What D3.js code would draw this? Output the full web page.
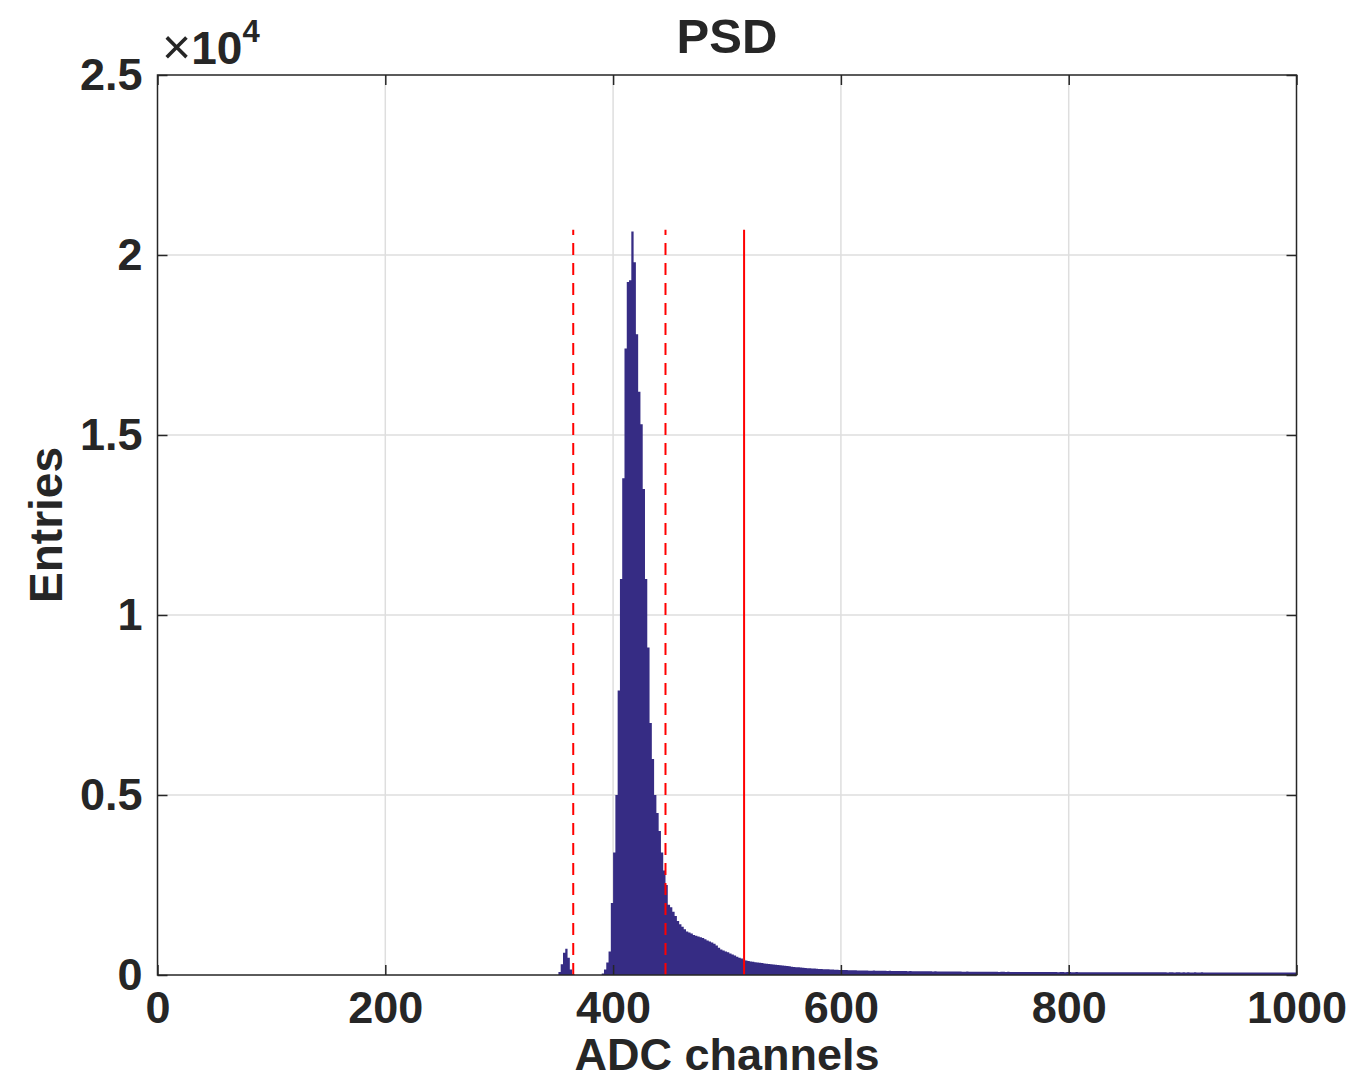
<!DOCTYPE html>
<html>
<head>
<meta charset="utf-8">
<script src="https://cdn.jsdelivr.net/npm/d3@7"></script>
<style>
body { margin: 0; background: #fff; }
svg text { font-family: "Liberation Sans", Arial, Helvetica, sans-serif; fill: #262626; }
</style>
</head>
<body>
<svg width="1358" height="1080"></svg>
<script>
// histogram of ADC channels, 2-channel bins, counts start at channel 340 (zero below)
const firstBin = 340;
const binWidth = 2;
const counts = [
    0, 0, 0, 0, 0, 0, 80, 300, 620, 730,                                  // 340
    480, 150, 30, 0, 0, 0, 0, 0, 0, 0,                                    // 360
    0, 0, 0, 0, 0, 40, 150, 350, 650, 2000,                               // 380
    3400, 5000, 7900, 11000, 13800, 17400, 19250, 19300, 20650, 19800,    // 400
    17800, 16200, 15300, 13500, 11000, 9100, 7000, 6000, 5000, 4500,      // 420
    4000, 3400, 2900, 2500, 1950, 1880, 1760, 1640, 1500, 1410,           // 440
    1340, 1270, 1210, 1180, 1150, 1110, 1090, 1070, 1050, 1030,           // 460
    990, 960, 930, 900, 870, 820, 760, 710, 680, 650,                     // 480
    630, 600, 570, 540, 510, 480, 455, 425, 405, 390,                     // 500
    375, 365, 355, 345, 338, 330, 320, 312, 305, 296,                     // 520
    290, 284, 277, 270, 262, 255, 248, 240, 232, 224,                     // 540
    218, 212, 206, 200, 195, 190, 186, 182, 178, 174,                     // 560
    170, 166, 163, 160, 157, 154, 151, 148, 145, 142,                     // 580
    140, 137, 139, 134, 133, 131, 132, 128, 127, 125,                     // 600
    124, 126, 121, 120, 122, 118, 117, 119, 115, 116,                     // 620
    114, 115, 112, 113, 111, 110, 112, 108, 109, 107,                     // 640
    108, 106, 105, 107, 104, 103, 105, 102, 101, 103,                     // 660
    100, 101, 99, 98, 100, 97, 96, 98, 95, 96,                            // 680
    95, 94, 96, 93, 92, 94, 91, 92, 93, 90,                               // 700
    91, 90, 92, 89, 88, 90, 87, 89, 88, 86,                               // 720
    88, 87, 86, 88, 85, 86, 84, 86, 85, 83,                               // 740
    85, 84, 83, 85, 82, 83, 84, 81, 82, 83,                               // 760
    81, 82, 80, 82, 81, 79, 80, 81, 79, 80,                               // 780
    80, 78, 79, 80, 78, 79, 77, 78, 79, 77,                               // 800
    78, 77, 76, 78, 77, 76, 77, 75, 76, 77,                               // 820
    76, 75, 77, 76, 74, 75, 76, 74, 75, 76,                               // 840
    75, 74, 75, 73, 74, 75, 73, 74, 75, 73,                               // 860
    74, 73, 74, 72, 73, 74, 72, 73, 74, 72,                               // 880
    73, 72, 73, 71, 72, 73, 71, 72, 73, 71,                               // 900
    72, 71, 72, 70, 71, 72, 70, 71, 72, 70,                               // 920
    71, 70, 71, 69, 70, 71, 69, 70, 71, 69,                               // 940
    70, 69, 70, 68, 69, 70, 68, 69, 70, 68,                               // 960
    69, 68, 69, 67, 68, 69, 67, 68, 69, 68                                // 980
];

// cut positions (ADC channels) and the height the markers are drawn to
const dashedCuts = [365, 446];
const solidCuts = [515];
const cutTop = 20700;

const xTicks = [0, 200, 400, 600, 800, 1000];
const yTicks = [0, 5000, 10000, 15000, 20000, 25000];
const yTickLabels = ["0", "0.5", "1", "1.5", "2", "2.5"];

let width = 1358, height = 1080;
let pLeft = 157.5, pRight = 1296.5, pTop = 75, pBottom = 975;
let ink = "#262626";

let svg = d3.select("svg");

let x = d3.scaleLinear().domain([0, 1000]).range([pLeft, pRight]);
let y = d3.scaleLinear().domain([0, 25000]).range([pBottom, pTop]);

svg.append("defs").append("clipPath").attr("id", "plot")
    .append("rect")
    .attr("x", pLeft).attr("y", pTop)
    .attr("width", pRight - pLeft).attr("height", pBottom - pTop);

// grid
let grid = svg.append("g").attr("stroke", "#dedede").attr("stroke-width", 1.5);
grid.selectAll(".gx")
    .data(xTicks.slice(1, -1))
    .enter().append("line")
    .attr("x1", d => x(d)).attr("x2", d => x(d))
    .attr("y1", pTop).attr("y2", pBottom);
grid.selectAll(".gy")
    .data(yTicks.slice(1, -1))
    .enter().append("line")
    .attr("x1", pLeft).attr("x2", pRight)
    .attr("y1", d => y(d)).attr("y2", d => y(d));

// histogram
let bins = counts.map((v, i) => ({ c: firstBin + i * binWidth, v: v }));
bins.push({ c: firstBin + counts.length * binWidth, v: counts[counts.length - 1] });

let area = d3.area()
    .curve(d3.curveStepAfter)
    .x(d => x(d.c))
    .y0(y(0))
    .y1(d => y(d.v));

svg.append("path")
    .datum(bins)
    .attr("clip-path", "url(#plot)")
    .attr("fill", "#362c84")
    .attr("d", area);

// cut markers
svg.append("g").selectAll("line")
    .data(dashedCuts)
    .enter().append("line")
    .attr("x1", d => x(d)).attr("x2", d => x(d))
    .attr("y1", y(0)).attr("y2", y(cutTop))
    .attr("stroke", "#ff0000")
    .attr("stroke-width", 2)
    .attr("stroke-dasharray", "12,8");

svg.append("g").selectAll("line")
    .data(solidCuts)
    .enter().append("line")
    .attr("x1", d => x(d)).attr("x2", d => x(d))
    .attr("y1", y(0)).attr("y2", y(cutTop))
    .attr("stroke", "#ff0000")
    .attr("stroke-width", 2);

// axes, ticks pointing inward on all four sides
function styleAxis(g) {
    g.attr("color", ink)
        .attr("font-family", null)
        .attr("font-size", 45)
        .attr("font-weight", "bold");
    g.select(".domain").remove();
    g.selectAll(".tick line").attr("stroke-width", 1.5);
}

svg.append("g")
    .attr("transform", `translate(0,${pBottom})`)
    .call(d3.axisBottom(x).tickValues(xTicks).tickSizeInner(-10).tickSizeOuter(0).tickPadding(16)
        .tickFormat(d3.format("d")))
    .call(styleAxis);

svg.append("g")
    .attr("transform", `translate(0,${pTop})`)
    .call(d3.axisTop(x).tickValues(xTicks).tickSizeInner(-10).tickSizeOuter(0).tickFormat(""))
    .call(styleAxis);

svg.append("g")
    .attr("transform", `translate(${pLeft},0)`)
    .call(d3.axisLeft(y).tickValues(yTicks).tickSizeInner(-10).tickSizeOuter(0).tickPadding(15)
        .tickFormat((d, i) => yTickLabels[i]))
    .call(styleAxis);

svg.append("g")
    .attr("transform", `translate(${pRight},0)`)
    .call(d3.axisRight(y).tickValues(yTicks).tickSizeInner(-10).tickSizeOuter(0).tickFormat(""))
    .call(styleAxis);

// box
svg.append("rect")
    .attr("x", pLeft).attr("y", pTop)
    .attr("width", pRight - pLeft).attr("height", pBottom - pTop)
    .attr("fill", "none")
    .attr("stroke", ink)
    .attr("stroke-width", 1.5);

// exponent label
let expo = svg.append("text").attr("x", 162).attr("y", 64);
expo.append("tspan").attr("font-weight", "normal").attr("font-size", 50).text("×");
expo.append("tspan").attr("font-weight", "bold").attr("font-size", 46).text("10");
expo.append("tspan").attr("font-weight", "bold").attr("font-size", 31).attr("dy", -22).text("4");

// titles
svg.append("text")
    .attr("x", (pLeft + pRight) / 2).attr("y", 53)
    .attr("text-anchor", "middle")
    .attr("font-size", 49).attr("font-weight", "bold")
    .text("PSD");

svg.append("text")
    .attr("x", (pLeft + pRight) / 2).attr("y", 1070)
    .attr("text-anchor", "middle")
    .attr("font-size", 45).attr("font-weight", "bold")
    .text("ADC channels");

svg.append("text")
    .attr("transform", `translate(62,${(pTop + pBottom) / 2}) rotate(-90)`)
    .attr("text-anchor", "middle")
    .attr("font-size", 46).attr("font-weight", "bold")
    .text("Entries");
</script>
</body>
</html>
